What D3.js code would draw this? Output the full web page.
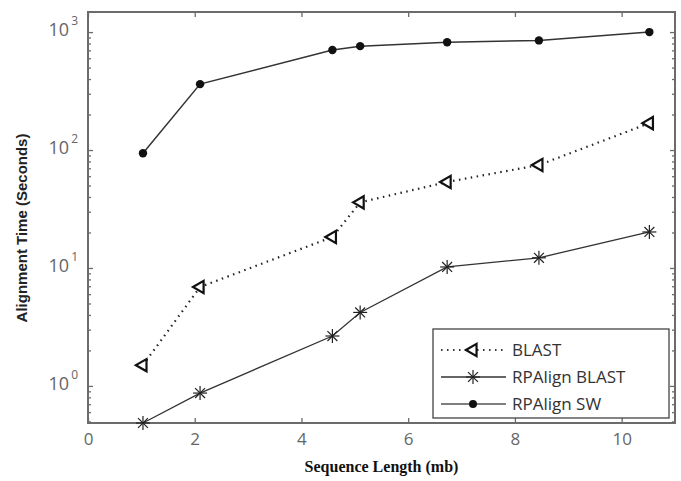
<!DOCTYPE html>
<html>
<head>
<meta charset="utf-8">
<script src="https://cdn.jsdelivr.net/npm/d3@7"></script>
<style>
  body { margin: 0; background: #fff; }
  svg { display: block; }
</style>
</head>
<body>
<div id="chart"></div>
<script>
// data
var lengths = [1.03, 2.1, 4.58, 5.1, 6.73, 8.45, 10.52]
var blast = [1.5, 6.9, 18.3, 36, 53.6, 74.6, 169]
var rpBlast = [0.485, 0.87, 2.65, 4.2, 10.2, 12.2, 20.2]
var rpSW = [94, 362, 704, 760, 820, 850, 1000]
var xTicks = [0, 2, 4, 6, 8, 10]
var yTicks = [1, 10, 100, 1000]
var seriesNames = ['BLAST', 'RPAlign BLAST', 'RPAlign SW']

var W = 681, H = 481
var m = { left: 88, right: 6, top: 12, bottom: 58 }

var svg = d3.select('#chart').append('svg')
  .attr('width', W)
  .attr('height', H)

var x = d3.scaleLinear().domain([0, 11]).range([m.left, W - m.right])
var y = d3.scaleLog().domain([0.485, 1480]).range([H - m.bottom, m.top])

var axisColor = '#6b6b6b'

// minor ticks for log axis
var minor = []
for (var e = -1; e <= 3; e++) {
  for (var k = 2; k <= 9; k++) {
    var v = k * Math.pow(10, e)
    if (v > y.domain()[0] && v < y.domain()[1]) minor.push(v)
  }
}

svg.append('g')
  .attr('transform', 'translate(' + m.left + ',0)')
  .call(d3.axisLeft(y).tickValues(yTicks).tickSize(-5).tickFormat(''))
svg.append('g')
  .attr('transform', 'translate(' + (W - m.right) + ',0)')
  .call(d3.axisRight(y).tickValues(yTicks).tickSize(-5).tickFormat(''))
svg.append('g')
  .attr('transform', 'translate(' + m.left + ',0)')
  .call(d3.axisLeft(y).tickValues(minor).tickSize(-3).tickFormat(''))
svg.append('g')
  .attr('transform', 'translate(' + (W - m.right) + ',0)')
  .call(d3.axisRight(y).tickValues(minor).tickSize(-3).tickFormat(''))
var bottom = svg.append('g')
  .attr('transform', 'translate(0,' + (H - m.bottom) + ')')
  .call(d3.axisBottom(x).tickValues(xTicks).tickSize(-5).tickPadding(10))
svg.append('g')
  .attr('transform', 'translate(0,' + m.top + ')')
  .call(d3.axisTop(x).tickValues(xTicks).tickSize(-5).tickFormat(''))

svg.selectAll('.domain').remove()
svg.selectAll('.tick line').attr('stroke', axisColor).attr('stroke-width', 1.3)

bottom.selectAll('text')
  .attr('font-family', 'Open Sans, DejaVu Sans, sans-serif')
  .attr('font-size', 17)
  .attr('fill', '#666')

// frame
svg.append('rect')
  .attr('x', m.left)
  .attr('y', m.top)
  .attr('width', W - m.right - m.left)
  .attr('height', H - m.bottom - m.top)
  .attr('fill', 'none')
  .attr('stroke', axisColor)
  .attr('stroke-width', 2)

// y tick labels 10^n
var yl = svg.append('g').selectAll('text').data(yTicks).enter().append('text')
  .attr('x', m.left - 10)
  .attr('y', function(d) { return y(d) + 4 })
  .attr('text-anchor', 'end')
  .attr('font-family', 'Open Sans, DejaVu Sans, sans-serif')
  .attr('font-size', 18)
  .attr('fill', '#666')
yl.append('tspan').text('10')
yl.append('tspan')
  .attr('dy', -11)
  .attr('dx', 2)
  .attr('font-size', 12)
  .text(function(d) { return Math.round(Math.log10(d)) })

// axis titles
svg.append('text')
  .attr('x', (m.left + W - m.right) / 2)
  .attr('y', 472)
  .attr('text-anchor', 'middle')
  .attr('font-family', 'Liberation Serif, DejaVu Serif, serif')
  .attr('font-weight', 'bold')
  .attr('font-size', 16)
  .attr('fill', '#111')
  .text('Sequence Length (mb)')
svg.append('text')
  .attr('transform', 'translate(27,' + 228 + ') rotate(-90)')
  .attr('text-anchor', 'middle')
  .attr('font-family', 'Liberation Sans Narrow, Liberation Sans, sans-serif')
  .attr('font-weight', 'bold')
  .attr('font-size', 15)
  .attr('fill', '#222')
  .text('Alignment Time (Seconds)')

function pts(vals) {
  return vals.map(function(v, i) { return [lengths[i], v] })
}
var line = d3.line().x(function(d) { return x(d[0]) }).y(function(d) { return y(d[1]) })

var plot = svg.append('g')

// BLAST dotted with left triangles
plot.append('path').datum(pts(blast))
  .attr('d', line)
  .attr('fill', 'none')
  .attr('stroke', '#222')
  .attr('stroke-width', 2.2)
  .attr('stroke-dasharray', '1.5,4.5')
var tri = d3.symbol().type(d3.symbolTriangle).size(65)
function drawTri(g, cx, cy) {
  g.append('path')
    .attr('d', tri())
    .attr('transform', 'translate(' + cx + ',' + cy + ') rotate(-90)')
    .attr('fill', '#fff')
    .attr('stroke', '#111')
    .attr('stroke-width', 2.2)
}
pts(blast).forEach(function(p) { drawTri(plot, x(p[0]), y(p[1])) })

// RPAlign BLAST solid with stars
plot.append('path').datum(pts(rpBlast))
  .attr('d', line)
  .attr('fill', 'none')
  .attr('stroke', '#333')
  .attr('stroke-width', 1.3)
function drawStar(g, cx, cy) {
  var r = 7
  for (var a = 0; a < 4; a++) {
    var ang = a * Math.PI / 4
    g.append('line')
      .attr('x1', cx - r * Math.cos(ang)).attr('y1', cy - r * Math.sin(ang))
      .attr('x2', cx + r * Math.cos(ang)).attr('y2', cy + r * Math.sin(ang))
      .attr('stroke', '#222')
      .attr('stroke-width', 1.2)
  }
}
pts(rpBlast).forEach(function(p) { drawStar(plot, x(p[0]), y(p[1])) })

// RPAlign SW solid with dots
plot.append('path').datum(pts(rpSW))
  .attr('d', line)
  .attr('fill', 'none')
  .attr('stroke', '#333')
  .attr('stroke-width', 1.5)
pts(rpSW).forEach(function(p) {
  plot.append('circle')
    .attr('cx', x(p[0])).attr('cy', y(p[1]))
    .attr('r', 4.2)
    .attr('fill', '#111')
})

// legend
var lg = svg.append('g').attr('transform', 'translate(433,329)')
lg.append('rect')
  .attr('width', 236)
  .attr('height', 89)
  .attr('fill', '#fff')
  .attr('stroke', '#444')
  .attr('stroke-width', 1.3)
seriesNames.forEach(function(name, i) {
  var cy = 21 + i * 27
  var row = lg.append('g')
  var ln = row.append('line')
    .attr('x1', 8).attr('x2', 73)
    .attr('y1', cy).attr('y2', cy)
    .attr('stroke', '#333')
  if (i === 0) {
    ln.attr('stroke-width', 2).attr('stroke-dasharray', '1.5,4.5')
    drawTri(row, 40, cy)
  } else if (i === 1) {
    ln.attr('stroke-width', 1.3)
    drawStar(row, 40, cy)
  } else {
    ln.attr('stroke-width', 1.5).attr('stroke', '#555')
    row.append('circle').attr('cx', 40).attr('cy', cy).attr('r', 4).attr('fill', '#111')
  }
  row.append('text')
    .attr('x', 79)
    .attr('y', cy + 6)
    .attr('font-family', 'Open Sans, DejaVu Sans, sans-serif')
    .attr('font-size', 17)
    .attr('fill', '#333')
    .text(name)
})
</script>
</body>
</html>
